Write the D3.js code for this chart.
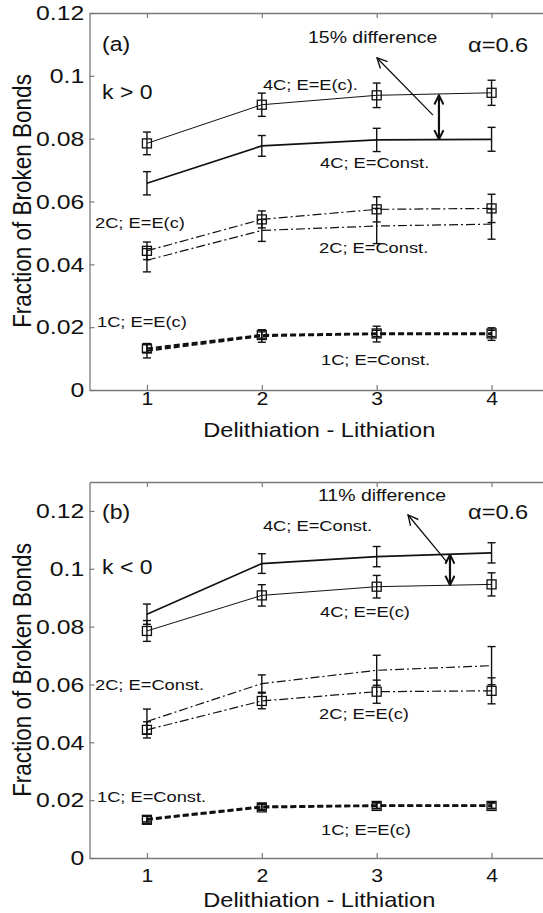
<!DOCTYPE html>
<html><head><meta charset="utf-8">
<script src="https://cdn.jsdelivr.net/npm/d3@7"></script>
<style>
body{margin:0;background:#fff}
text{font-family:"Liberation Sans",Arial,Helvetica,sans-serif;fill:#111}
</style>
</head><body>
<svg id="chart" width="543" height="913"></svg>
<script>
// ---------------- data ----------------
const cycles = [1, 2, 3, 4];
const xTickLabels = ["1", "2", "3", "4"];
const yTicks = [0, 0.02, 0.04, 0.06, 0.08, 0.1, 0.12];
const yTickLabels = ["0", "0.02", "0.04", "0.06", "0.08", "0.1", "0.12"];

// E = E(c) (same in both panels)
const ecMean4C = [0.0785, 0.0908, 0.0938, 0.0946];
const ecErr4C  = [0.0036, 0.0037, 0.0039, 0.0040];
const ecMean2C = [0.0443, 0.0543, 0.0575, 0.0578];
const ecErr2C  = [0.0028, 0.0027, 0.0040, 0.0045];
const ecMean1C = [0.0132, 0.0175, 0.0180, 0.0180];
const ecErr1C  = [0.0012, 0.0010, 0.0010, 0.0010];

// (a) k > 0, E = Const.
const posMean4C = [0.0658, 0.0777, 0.0796, 0.0798];
const posErr4C  = [0.0037, 0.0033, 0.0037, 0.0038];
const posMean2C = [0.0413, 0.0508, 0.0522, 0.0528];
const posErr2C  = [0.0037, 0.0035, 0.0056, 0.0048];
const posMean1C = [0.0125, 0.0172, 0.0178, 0.0178];
const posErr1C  = [0.0023, 0.0020, 0.0025, 0.0020];

// (b) k < 0, E = Const.
const negMean4C = [0.0843, 0.1018, 0.1042, 0.1055];
const negErr4C  = [0.0035, 0.0034, 0.0035, 0.0035];
const negMean2C = [0.0472, 0.0603, 0.0649, 0.0665];
const negErr2C  = [0.0043, 0.0030, 0.0052, 0.0066];
const negMean1C = [0.0135, 0.0178, 0.0182, 0.0182];
const negErr1C  = [0.0010, 0.0010, 0.0010, 0.0010];

// ---------------- drawing ----------------
const svg = d3.select("#chart");
const SX = 1.18;              // horizontal stretch of the original figure's text
const INK = "#111";
const AXC = "#7a7a7a";

const styles = {
  thin:    {w: 1.0, dash: null},
  thick:   {w: 1.7, dash: null},
  dashdot: {w: 1.2, dash: "9,3,2,3"},
  dash:    {w: 2.2, dash: "6,3"}
};

const defs = svg.append("defs");
defs.append("marker").attr("id", "headThin").attr("viewBox", "0 0 12 12")
  .attr("refX", 11).attr("refY", 6).attr("markerWidth", 12).attr("markerHeight", 12)
  .attr("markerUnits", "userSpaceOnUse").attr("orient", "auto")
  .append("path").attr("d", "M1,1 L11,6 L1,11").attr("fill", "none")
  .attr("stroke", INK).attr("stroke-width", 1.4);
defs.append("marker").attr("id", "headThick").attr("viewBox", "0 0 12 12")
  .attr("refX", 11).attr("refY", 6).attr("markerWidth", 11).attr("markerHeight", 11)
  .attr("markerUnits", "userSpaceOnUse").attr("orient", "auto-start-reverse")
  .append("path").attr("d", "M1,1 L11,6 L1,11").attr("fill", "none")
  .attr("stroke", INK).attr("stroke-width", 2.2);

function txt(g, px, py, s, size, anchor) {
  return g.append("text")
    .attr("transform", `translate(${px},${py}) scale(${SX},1)`)
    .attr("font-size", size).attr("text-anchor", anchor || "start").text(s);
}

function panel(cfg) {
  const x = d3.scaleLinear().domain([0.5, 4.5]).range([89.5, 549]);
  const y = d3.scaleLinear().domain([0, cfg.yMax]).range([cfg.bottom, cfg.top]);
  const g = svg.append("g");

  // axes
  const ax = (sel) => { sel.selectAll("path.domain").attr("stroke", AXC).attr("stroke-width", 1.3);
                        sel.selectAll(".tick line").attr("stroke", AXC).attr("stroke-width", 1.2); };
  const yA = g.append("g").attr("transform", `translate(${x.range()[0]},0)`)
    .call(d3.axisLeft(y).tickValues(yTicks).tickFormat((d, i) => yTickLabels[i])
      .tickSizeInner(-5).tickSizeOuter(0).tickPadding(4)).call(ax);
  yA.selectAll("text").attr("font-size", 21).attr("fill", INK)
    .attr("font-family", '"Liberation Sans",Arial,sans-serif')
    .attr("transform", `scale(${SX},1)`).attr("x", -4.5);
  const xA = g.append("g").attr("transform", `translate(0,${cfg.bottom})`)
    .call(d3.axisBottom(x).tickValues(cycles).tickFormat((d, i) => xTickLabels[i])
      .tickSizeInner(-5).tickSizeOuter(0).tickPadding(cfg.xPad)).call(ax);
  xA.selectAll("text").attr("font-size", 18).attr("fill", INK)
    .attr("font-family", '"Liberation Sans",Arial,sans-serif')
    .attr("transform", `scale(${SX},1)`);
  g.append("g").attr("transform", `translate(0,${cfg.top})`)
    .call(d3.axisTop(x).tickValues(cycles).tickFormat("")
      .tickSizeInner(-5).tickSizeOuter(0)).call(ax);

  // axis titles
  g.append("text")
    .attr("transform", `translate(22,${cfg.yTitleY}) scale(${SX},1) rotate(-90)`)
    .attr("font-size", 22.5).attr("text-anchor", "middle").attr("dy", "0.35em")
    .text("Fraction of Broken Bonds");
  txt(g, (x.range()[0] + x.range()[1]) / 2, cfg.xTitleY, "Delithiation - Lithiation", 20, "middle");

  // series
  const line = d3.line().x((d, i) => x(cycles[i])).y(d => y(d));
  cfg.series.forEach(s => {
    const st = styles[s.style];
    g.append("path").datum(s.mean).attr("d", line).attr("fill", "none")
      .attr("stroke", INK).attr("stroke-width", st.w)
      .attr("stroke-dasharray", st.dash);
    // error bars
    s.mean.forEach((m, i) => {
      const cx = x(cycles[i]), y0 = y(m - s.err[i]), y1 = y(m + s.err[i]);
      const eb = g.append("g").attr("stroke", INK).attr("stroke-width", 1.4);
      eb.append("line").attr("x1", cx).attr("x2", cx).attr("y1", y0).attr("y2", y1);
      eb.append("line").attr("x1", cx - 4).attr("x2", cx + 4).attr("y1", y0).attr("y2", y0);
      eb.append("line").attr("x1", cx - 4).attr("x2", cx + 4).attr("y1", y1).attr("y2", y1);
    });
    if (s.marker) {
      g.selectAll(null).data(s.mean).enter().append("rect")
        .attr("x", (d, i) => x(cycles[i]) - 4.5).attr("y", d => y(d) - 4.5)
        .attr("width", 9).attr("height", 9).attr("fill", "none")
        .attr("stroke", INK).attr("stroke-width", 1.3);
    }
  });

  // annotations (anchored in data coordinates)
  cfg.labels.forEach(l => txt(g, x(l.c), y(l.v), l.t, l.size || 15.5, "start"));

  // arrows
  g.append("line").attr("x1", x(cfg.thin[0])).attr("y1", y(cfg.thin[1]))
    .attr("x2", x(cfg.thin[2])).attr("y2", y(cfg.thin[3]))
    .attr("stroke", INK).attr("stroke-width", 1.3).attr("marker-end", "url(#headThin)");
  g.append("line").attr("x1", x(cfg.dbl[0])).attr("y1", y(cfg.dbl[1]))
    .attr("x2", x(cfg.dbl[0])).attr("y2", y(cfg.dbl[2]))
    .attr("stroke", INK).attr("stroke-width", 2.2)
    .attr("marker-start", "url(#headThick)").attr("marker-end", "url(#headThick)");
}

panel({
  top: 13, bottom: 390, yMax: 0.12, xPad: 2, yTitleY: 201, xTitleY: 437,
  series: [
    {mean: ecMean4C,  err: ecErr4C,  style: "thin",    marker: true},
    {mean: posMean4C, err: posErr4C, style: "thick",   marker: false},
    {mean: ecMean2C,  err: ecErr2C,  style: "dashdot", marker: true},
    {mean: posMean2C, err: posErr2C, style: "dashdot", marker: false},
    {mean: posMean1C, err: posErr1C, style: "dash",    marker: false},
    {mean: ecMean1C,  err: ecErr1C,  style: "dash",    marker: true}
  ],
  labels: [
    {c: 0.609, v: 0.1079, t: "(a)", size: 19.5},
    {c: 0.609, v: 0.0926, t: "k > 0", size: 19.5},
    {c: 2.010, v: 0.0955, t: "4C; E=E(c)."},
    {c: 2.402, v: 0.1105, t: "15% difference", size: 16.5},
    {c: 3.795, v: 0.1076, t: "\u03b1=0.6", size: 20},
    {c: 2.507, v: 0.0707, t: "4C; E=Const."},
    {c: 0.548, v: 0.0516, t: "2C; E=E(c)"},
    {c: 2.498, v: 0.0436, t: "2C; E=Const."},
    {c: 0.565, v: 0.0201, t: "1C; E=E(c)"},
    {c: 2.515, v: 0.0080, t: "1C; E=Const."}
  ],
  thin: [3.49, 0.0875, 3.003, 0.1057],
  dbl: [3.542, 0.0938, 0.0798]
});

panel({
  top: 482, bottom: 858, yMax: 0.13, xPad: 11, yTitleY: 670, xTitleY: 907,
  series: [
    {mean: negMean4C, err: negErr4C, style: "thick",   marker: false},
    {mean: ecMean4C,  err: ecErr4C,  style: "thin",    marker: true},
    {mean: negMean2C, err: negErr2C, style: "dashdot", marker: false},
    {mean: ecMean2C,  err: ecErr2C,  style: "dashdot", marker: true},
    {mean: negMean1C, err: negErr1C, style: "dash",    marker: false},
    {mean: ecMean1C,  err: ecErr1C,  style: "dash",    marker: true}
  ],
  labels: [
    {c: 0.609, v: 0.1172, t: "(b)", size: 19.5},
    {c: 0.609, v: 0.0982, t: "k < 0", size: 19.5},
    {c: 2.489, v: 0.1234, t: "11% difference", size: 16.5},
    {c: 3.795, v: 0.1172, t: "\u03b1=0.6", size: 20},
    {c: 2.010, v: 0.1131, t: "4C; E=Const."},
    {c: 2.507, v: 0.0833, t: "4C; E=E(c)"},
    {c: 0.548, v: 0.0581, t: "2C; E=Const."},
    {c: 2.498, v: 0.0481, t: "2C; E=E(c)"},
    {c: 0.565, v: 0.0194, t: "1C; E=Const."},
    {c: 2.515, v: 0.0080, t: "1C; E=E(c)"}
  ],
  thin: [3.612, 0.1023, 3.273, 0.1186],
  dbl: [3.638, 0.1049, 0.0944]
});
</script>
</body></html>
